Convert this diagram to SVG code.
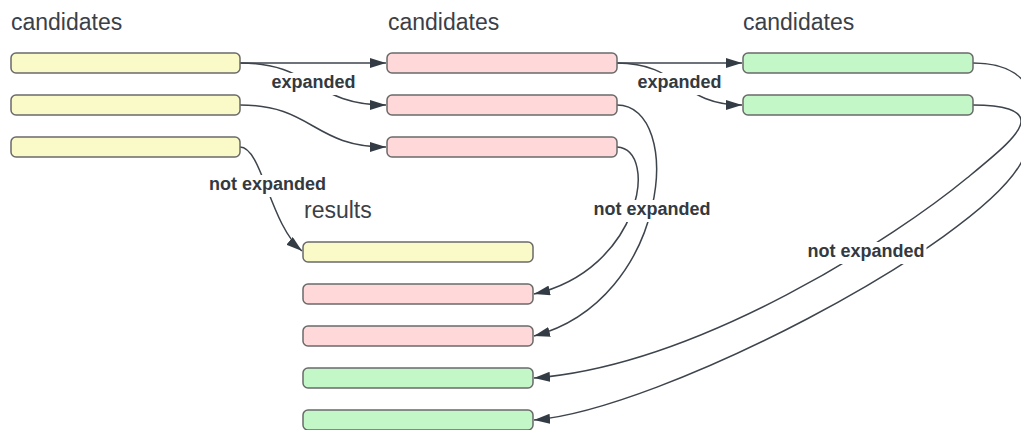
<svg xmlns="http://www.w3.org/2000/svg" width="1021" height="430" viewBox="0 0 1021 430">
<defs>
<style>
.title{font-family:"Liberation Sans",Arial,sans-serif;font-size:23px;fill:#3b4047}
.lbl{font-family:"Liberation Sans",Arial,sans-serif;font-size:18px;font-weight:bold;fill:#33393f;text-anchor:middle}
.bg{fill:#ffffff}
.box{stroke:#6a6a6a;stroke-width:1.5}
.y{fill:#fafac8}
.p{fill:#ffd9d9}
.g{fill:#c3f7c8}
.c{fill:none;stroke:#3d444c;stroke-width:1.5;marker-end:url(#arr)}
</style>
<marker id="arr" markerUnits="userSpaceOnUse" markerWidth="16" markerHeight="10" refX="16" refY="5" orient="auto">
<path d="M0,0 L16,5 L0,10 z" fill="#333c45"/>
</marker>
</defs>
<rect width="1021" height="430" fill="#ffffff"/>
<text class="title" x="11" y="30">candidates</text>
<text class="title" x="388" y="30">candidates</text>
<text class="title" x="743" y="30">candidates</text>
<text class="title" x="304" y="218">results</text>
<g id="connectors">
<path class="c" d="M240,63 L386,63"/>
<path class="c" d="M240,63 C313,63 313,105 386,105"/>
<path class="c" d="M240,105 C313,105 313,147 386,147"/>
<path class="c" d="M240,147 C262,147 270,225 302,251"/>
<path class="c" d="M617,63 L742,63"/>
<path class="c" d="M617,63 C680,63 680,105 742,105"/>
<path class="c" d="M617,147 C660,150 640,270 534,294"/>
<path class="c" d="M617,105 C685,105 670,300 534,336"/>
<path class="c" d="M973,105 C1003,105 1022,110 1021,122 C1020,135 995,155 967,178 C897,236 700,365 534,378"/>
<path class="c" d="M973,63 C1045,63 1043,123 1021,163 C976,245 660,410 534,420"/>
<g id="label-expanded-1"><rect class="bg" x="269.5" y="73" width="88" height="22"/><text class="lbl" x="313.5" y="88">expanded</text></g>
<g id="label-expanded-2"><rect class="bg" x="635.5" y="73" width="88" height="22"/><text class="lbl" x="679.5" y="88">expanded</text></g>
<g id="label-notexp-1"><rect class="bg" x="207" y="175" width="121" height="22"/><text class="lbl" x="267.5" y="190">not expanded</text></g>
<g id="label-notexp-2"><rect class="bg" x="591.5" y="200" width="121" height="22"/><text class="lbl" x="652" y="215">not expanded</text></g>
<g id="label-notexp-3"><rect class="bg" x="805.5" y="242" width="121" height="22"/><text class="lbl" x="866" y="257">not expanded</text></g>
</g>
<g id="cand-a1"><rect class="box y" x="11" y="53" width="229" height="20" rx="5"/></g>
<g id="cand-a2"><rect class="box y" x="11" y="95" width="229" height="20" rx="5"/></g>
<g id="cand-a3"><rect class="box y" x="11" y="137" width="229" height="20" rx="5"/></g>
<g id="cand-b1"><rect class="box p" x="387" y="53" width="230" height="20" rx="5"/></g>
<g id="cand-b2"><rect class="box p" x="387" y="95" width="230" height="20" rx="5"/></g>
<g id="cand-b3"><rect class="box p" x="387" y="137" width="230" height="20" rx="5"/></g>
<g id="cand-c1"><rect class="box g" x="743" y="53" width="230" height="20" rx="5"/></g>
<g id="cand-c2"><rect class="box g" x="743" y="95" width="230" height="20" rx="5"/></g>
<g id="result-1"><rect class="box y" x="303" y="242" width="230" height="20" rx="5"/></g>
<g id="result-2"><rect class="box p" x="303" y="284" width="230" height="20" rx="5"/></g>
<g id="result-3"><rect class="box p" x="303" y="326" width="230" height="20" rx="5"/></g>
<g id="result-4"><rect class="box g" x="303" y="368" width="230" height="20" rx="5"/></g>
<g id="result-5"><rect class="box g" x="303" y="410" width="230" height="20" rx="5"/></g>
</svg>
